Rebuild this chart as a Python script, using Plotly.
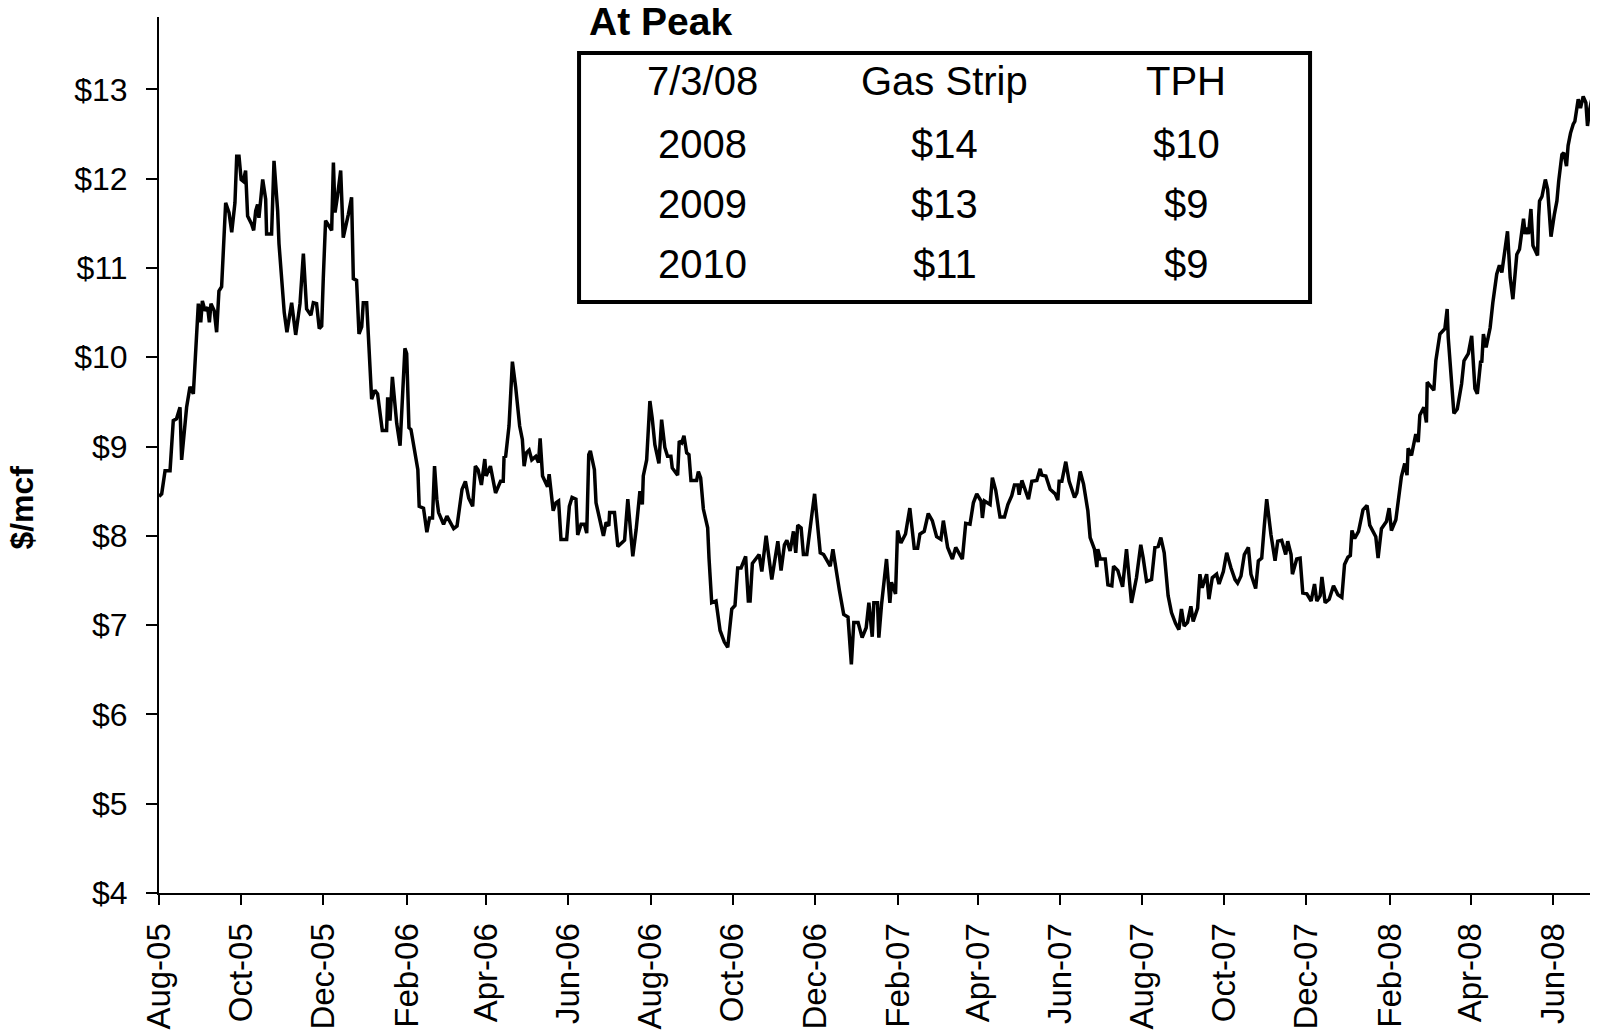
import pandas as pd
import plotly.graph_objects as go

# natural gas price ($/mcf); x = days after 1-Aug-2005
start_date = "2005-08-01"
end_date = "2008-07-04 12:00"

day_offset = [
    0, 2, 4.5, 8.2, 10.6, 13, 15.6, 16.8, 20.5, 23, 25.5, 28, 29.2, 31, 32.2, 34.2, 36.1, 37.4,
    38.6, 41, 42.8, 44.5, 46.5, 49.5, 52, 54, 56.4, 57.7, 59.4, 61, 62.6, 64.3, 65.8, 68.8, 70.3,
    71.8, 73.2, 74.2, 77, 79.2, 79.9, 83.6, 85.4, 88.1, 89.1, 93, 95, 98.5, 101.5, 104.7, 107.2,
    109.6, 112.8, 114.6, 117, 119, 120.8, 122, 123.7, 127, 128.2, 129.5, 130.7, 132.6, 134.9,
    136.8, 138.6, 140.6, 143, 144.3, 146.7, 148.5, 150.5, 151.7, 154.2, 157.9, 160.3, 162.3,
    165.8, 169, 169.8, 171.5, 173.3, 176.5, 179,
    182.6, 183.9, 185.6, 187.1, 192.2, 193.2, 196.4, 198.9, 200.9, 203.1, 204.6, 206.3, 207.6,
    211.3, 213.8, 216.3, 218.8, 221.3, 225, 227.5, 230, 232.9, 234.9, 236.9, 239.4, 241.9, 242.9,
    246.1, 249.9, 253.6, 255.6, 256.2, 257.4, 259.9, 262.4, 264.8, 267.8, 269.8, 271.1, 272.8,
    274.8, 276.8, 279.8, 281.8, 283, 284.8, 288.5, 289.7, 292.7, 294.7, 296.7, 298.5, 302.7,
    304.7, 306.7, 309.6, 310.9, 313.4, 315.9, 317.6, 319.1, 320.3, 323.3, 324.5, 327, 330, 332,
    334, 334.6, 338.2, 340.7, 345.7, 348.1, 351.8, 354.3,
    357.1, 358.9, 359.6, 362.1, 364.5, 366.2, 368.2, 371.2, 373.2, 375.6, 377.6, 380.1, 381.1,
    385.1, 386.3, 388.1, 389.8, 391.8, 393.5, 395, 399.2, 400.5, 402.2, 404.2, 407.4, 408.4,
    410.4, 413.6, 416.6, 419.8, 422.3, 425.3, 427.7, 429.7, 432.2, 435.6, 437.6, 438.9, 440.6,
    442.1, 445.6, 447.6, 450.8, 455, 459.5, 461.9, 464.4, 466.2, 468.6, 471.1, 472.8, 474.3,
    476.8, 478.5, 481, 484.8, 486.8, 488.5, 491, 493.5, 496, 498.4, 500.4, 503.4, 505.2, 508.4,
    511.6, 514.1, 515.9, 519.1, 522.1, 525.1, 527.1, 529.6, 530.8, 533.5,
    534.5, 536.5, 540.2, 542.7, 543.9, 546.9, 548.4, 550.9, 554.3, 557.5, 560.8, 563.3, 565,
    568.2, 571.2, 574.2, 577.4, 580.6, 582.4, 585.6, 589.1, 591.6, 596.5, 599, 602.2, 604.7,
    607.2, 610.4, 611.4, 612.9, 617.1, 618.8, 621.3, 624.5, 627.8, 630.3, 633.2, 635.2, 637.7,
    638.7, 640.7, 642.6, 645.6, 648.1, 651.8, 654.3, 655.5, 658.5, 661.7, 665.4, 667.4, 668.4,
    670.4, 673.3, 675.8, 679.8, 681.5, 684, 686.5, 689.7, 691.4, 694.6, 696.4, 697.1, 698.9,
    702.6, 704.6, 707.5, 708.8, 712, 715.5,
    718.4, 722.1, 725.8, 729, 730.8, 733.3, 737, 739.5, 741.9, 743.9, 746.4, 749.3, 751.8,
    754.8, 757.3, 759.2, 761.2, 763.7, 766.2, 767.9, 771.2, 772.9, 774.6, 777.9, 779.6, 782.1,
    785.3, 787.1, 790.3, 792.8, 796, 799, 800.9, 803.4, 805.9, 808.9, 810.8, 814.3, 816.3,
    818.8, 820.7, 822.5, 825.7, 828.7, 830.7, 833.6, 836.6, 838.1, 840.6, 841.6, 844.8, 847.3,
    849.3, 852.3, 855.5, 858, 859.7, 862.2, 863.5, 865.9, 868.9, 872.1, 875.4, 878.3, 880.3,
    882.8, 884.6, 885.8, 887.8, 890.7,
    894, 897, 899, 901.5, 903.5, 905.2, 907.7, 911.4, 913.4, 915.1, 918.4, 922.5, 925, 926.7,
    927.5, 930, 933.2, 935, 936.2, 939.2, 941.1, 941.7, 944.9, 946.6, 948.1, 951.1, 954.8,
    956.5, 957.3, 959.8, 961.5, 964, 967.2, 969, 972.2, 974.7, 975.9, 977.1, 978.9, 981.4,
    982.2, 983.4, 985.4, 988.4, 990.4, 993.3, 995.3, 997.1, 1001.3, 1003.3, 1005.3, 1008.2,
    1010.2, 1011.2, 1013.2, 1014.4, 1015.7, 1016.9, 1018.7, 1020.2, 1023.6, 1024.4, 1025.1,
    1026.9, 1029.4, 1031.1, 1033.6, 1036.1, 1038, 1039.3, 1041.7, 1043.1, 1045.1, 1046.3,
    1048.1, 1050.1, 1051.3, 1053.8, 1055.5, 1057.5, 1059.5, 1060.7, 1062.5, 1064.9, 1066.4,
    1067.9, 1068.5,
]

price = [
    8.44, 8.47, 8.73, 8.73, 9.29, 9.31, 9.44, 8.85, 9.44, 9.67, 9.59, 10.41, 10.60, 10.39, 10.63,
    10.52, 10.56, 10.39, 10.60, 10.52, 10.28, 10.74, 10.79, 11.73, 11.62, 11.40, 11.73, 12.25,
    12.25, 11.99, 11.97, 12.09, 11.58, 11.49, 11.42, 11.64, 11.71, 11.56, 11.99, 11.77, 11.38,
    11.38, 12.20, 11.64, 11.27, 10.50, 10.28, 10.61, 10.25, 10.60, 11.16, 10.54, 10.47, 10.61,
    10.60, 10.32, 10.35, 10.89, 11.53, 11.45, 11.42, 12.18, 11.62, 11.81, 12.09, 11.34, 11.45,
    11.60, 11.79, 10.88, 10.86, 10.26, 10.34, 10.61, 10.61, 9.53, 9.63, 9.59, 9.18, 9.18, 9.55,
    9.29, 9.78, 9.26, 9.01,
    10.10, 10.04, 9.21, 9.19, 8.74, 8.33, 8.31, 8.04, 8.20, 8.20, 8.78, 8.41, 8.26, 8.13, 8.22,
    8.15, 8.08, 8.11, 8.52, 8.61, 8.42, 8.33, 8.78, 8.74, 8.57, 8.86, 8.67, 8.78, 8.48, 8.61,
    8.61, 8.88, 8.89, 9.23, 9.95, 9.67, 9.23, 9.08, 8.78, 8.93, 8.96, 8.85, 8.89, 8.82, 9.09,
    8.67, 8.55, 8.69, 8.28, 8.37, 8.39, 7.96, 7.96, 8.33, 8.43, 8.41, 8.01, 8.13, 8.13, 8.03,
    8.91, 8.95, 8.74, 8.37, 8.22, 8.00, 8.15, 8.11, 8.26, 8.26, 7.88, 7.95, 8.41, 7.77, 8.07,
    8.50, 8.35, 8.67, 8.85, 9.51, 9.32, 9.02, 8.81, 9.30, 8.99, 8.89, 8.89, 8.76, 8.68, 9.06,
    9.04, 9.12, 8.93, 8.91, 8.62, 8.62, 8.72, 8.65, 8.30, 8.09, 7.75, 7.25, 7.27, 6.94, 6.81,
    6.75, 7.18, 7.22, 7.64, 7.64, 7.77, 7.27, 7.27, 7.69, 7.72, 7.79, 7.60, 8.00, 7.51, 7.94,
    7.61, 7.90, 7.95, 7.83, 8.05, 7.81, 8.12, 8.09, 7.79, 7.79, 8.24, 8.47, 8.20, 7.81, 7.79,
    7.72, 7.66, 7.85, 7.53, 7.39, 7.12, 7.09, 6.56, 7.03, 7.03, 6.86, 6.97, 7.25, 6.87, 7.25,
    7.25,
    6.86, 7.23, 7.74, 7.25, 7.48, 7.35, 8.06, 7.92, 8.02, 8.31, 7.86, 7.86, 8.02, 8.05, 8.25,
    8.17, 7.99, 7.96, 8.17, 7.87, 7.74, 7.87, 7.74, 8.14, 8.13, 8.37, 8.47, 8.39, 8.20, 8.39,
    8.35, 8.65, 8.51, 8.21, 8.21, 8.35, 8.45, 8.57, 8.57, 8.46, 8.62, 8.54, 8.41, 8.61, 8.62,
    8.75, 8.68, 8.67, 8.52, 8.47, 8.40, 8.61, 8.61, 8.83, 8.61, 8.43, 8.48, 8.72, 8.58, 8.28,
    7.98, 7.85, 7.65, 7.85, 7.74, 7.74, 7.45, 7.44, 7.66, 7.61, 7.43,
    7.85, 7.25, 7.53, 7.90, 7.75, 7.49, 7.51, 7.87, 7.88, 7.98, 7.81, 7.33, 7.14, 7.02, 6.95,
    7.18, 6.99, 7.03, 7.21, 7.04, 7.19, 7.57, 7.42, 7.57, 7.29, 7.53, 7.57, 7.46, 7.60, 7.81,
    7.64, 7.51, 7.47, 7.55, 7.79, 7.87, 7.57, 7.41, 7.72, 7.75, 8.11, 8.41, 8.01, 7.72, 7.94,
    7.95, 7.79, 7.94, 7.79, 7.57, 7.74, 7.75, 7.36, 7.35, 7.27, 7.46, 7.27, 7.33, 7.54, 7.25,
    7.29, 7.44, 7.34, 7.31, 7.68, 7.76, 7.78, 8.06, 7.97, 8.05,
    8.29, 8.34, 8.12, 8.04, 7.99, 7.75, 8.08, 8.16, 8.31, 8.06, 8.18, 8.66, 8.81, 8.68, 8.98,
    8.90, 9.14, 9.05, 9.35, 9.44, 9.27, 9.72, 9.66, 9.63, 9.96, 10.26, 10.32, 10.54, 10.22,
    9.76, 9.37, 9.42, 9.70, 9.96, 10.04, 10.24, 9.89, 9.65, 9.59, 9.96, 9.94, 10.26, 10.11,
    10.33, 10.61, 10.93, 11.03, 10.95, 11.41, 10.89, 10.65, 11.15, 11.21, 11.34, 11.55, 11.38,
    11.45, 11.38, 11.66, 11.25, 11.14, 11.57, 11.75, 11.80, 11.99, 11.88, 11.35, 11.60, 11.75,
    11.97, 12.27, 12.29, 12.14, 12.37, 12.51, 12.61, 12.64, 12.89, 12.79, 12.92, 12.85, 12.59,
    12.79, 12.96, 13.02, 13.11, 13.15,
]

# "At Peak" table
table_header = ["7/3/08", "Gas Strip", "TPH"]
strip_years = ["2008", "2009", "2010"]
gas_strip = ["$14", "$13", "$11"]
tph = ["$10", "$9", "$9"]

dates = pd.Timestamp(start_date) + pd.to_timedelta(day_offset, unit="D")

FONT = "Liberation Sans, Arial, sans-serif"

fig = go.Figure()
fig.add_trace(go.Scatter(x=dates, y=price, mode="lines",
                         line=dict(color="black", width=3.5), showlegend=False,
                         hoverinfo="x+y"))

# page body has an 8px margin, so the figure is 8px smaller than the window
fig.update_layout(
    width=1590, height=1027,
    margin=dict(l=151, r=0, t=9, b=142),
    plot_bgcolor="white", paper_bgcolor="white",
    font=dict(family=FONT, color="black"),
    xaxis=dict(
        type="date",
        range=[start_date, end_date],
        tick0=start_date, dtick="M2", tickformat="%b-%y",
        tickangle=-90,
        ticks="outside", ticklen=10, tickwidth=2, tickcolor="black",
        showline=True, linecolor="black", linewidth=2,
        showgrid=False, zeroline=False, automargin=False,
        tickfont=dict(size=33, family=FONT),
        ticklabelstandoff=5,
    ),
    yaxis=dict(
        range=[4, 13.81],
        tick0=4, dtick=1, tickprefix="$",
        ticks="outside", ticklen=11, tickwidth=2, tickcolor="black",
        showline=True, linecolor="black", linewidth=2,
        showgrid=False, zeroline=False, automargin=False,
        tickfont=dict(size=32, family=FONT),
        ticklabelstandoff=12,
    ),
)

# axis title
fig.add_annotation(text="<b>$/mcf</b>", textangle=-90, xref="paper", yref="paper",
                   x=-0.0952, y=0.44, xanchor="center", yanchor="middle",
                   showarrow=False, font=dict(size=32, family=FONT))

# table box
fig.add_shape(type="rect", xref="paper", yref="paper",
              x0=0.2919, x1=0.7999, y0=0.6747, y1=0.9589,
              line=dict(color="black", width=4), fillcolor="white", layer="above")

fig.add_annotation(text="<b>At Peak</b>", xref="paper", yref="paper", x=0.2975, y=0.9954,
                   xanchor="left", yanchor="middle", showarrow=False,
                   font=dict(size=39, family=FONT))

col_x = [0.378, 0.546, 0.714]
row_y = [0.927, 0.855, 0.787, 0.718]
for cx, txt in zip(col_x, table_header):
    fig.add_annotation(text=txt, xref="paper", yref="paper", x=cx, y=row_y[0],
                       xanchor="center", yanchor="middle",
                       showarrow=False, font=dict(size=40, family=FONT))
for i in range(len(strip_years)):
    for cx, txt in zip(col_x, [strip_years[i], gas_strip[i], tph[i]]):
        fig.add_annotation(text=txt, xref="paper", yref="paper", x=cx, y=row_y[i + 1],
                           xanchor="center", yanchor="middle",
                           showarrow=False, font=dict(size=40, family=FONT))

fig.write_html("out.html")
